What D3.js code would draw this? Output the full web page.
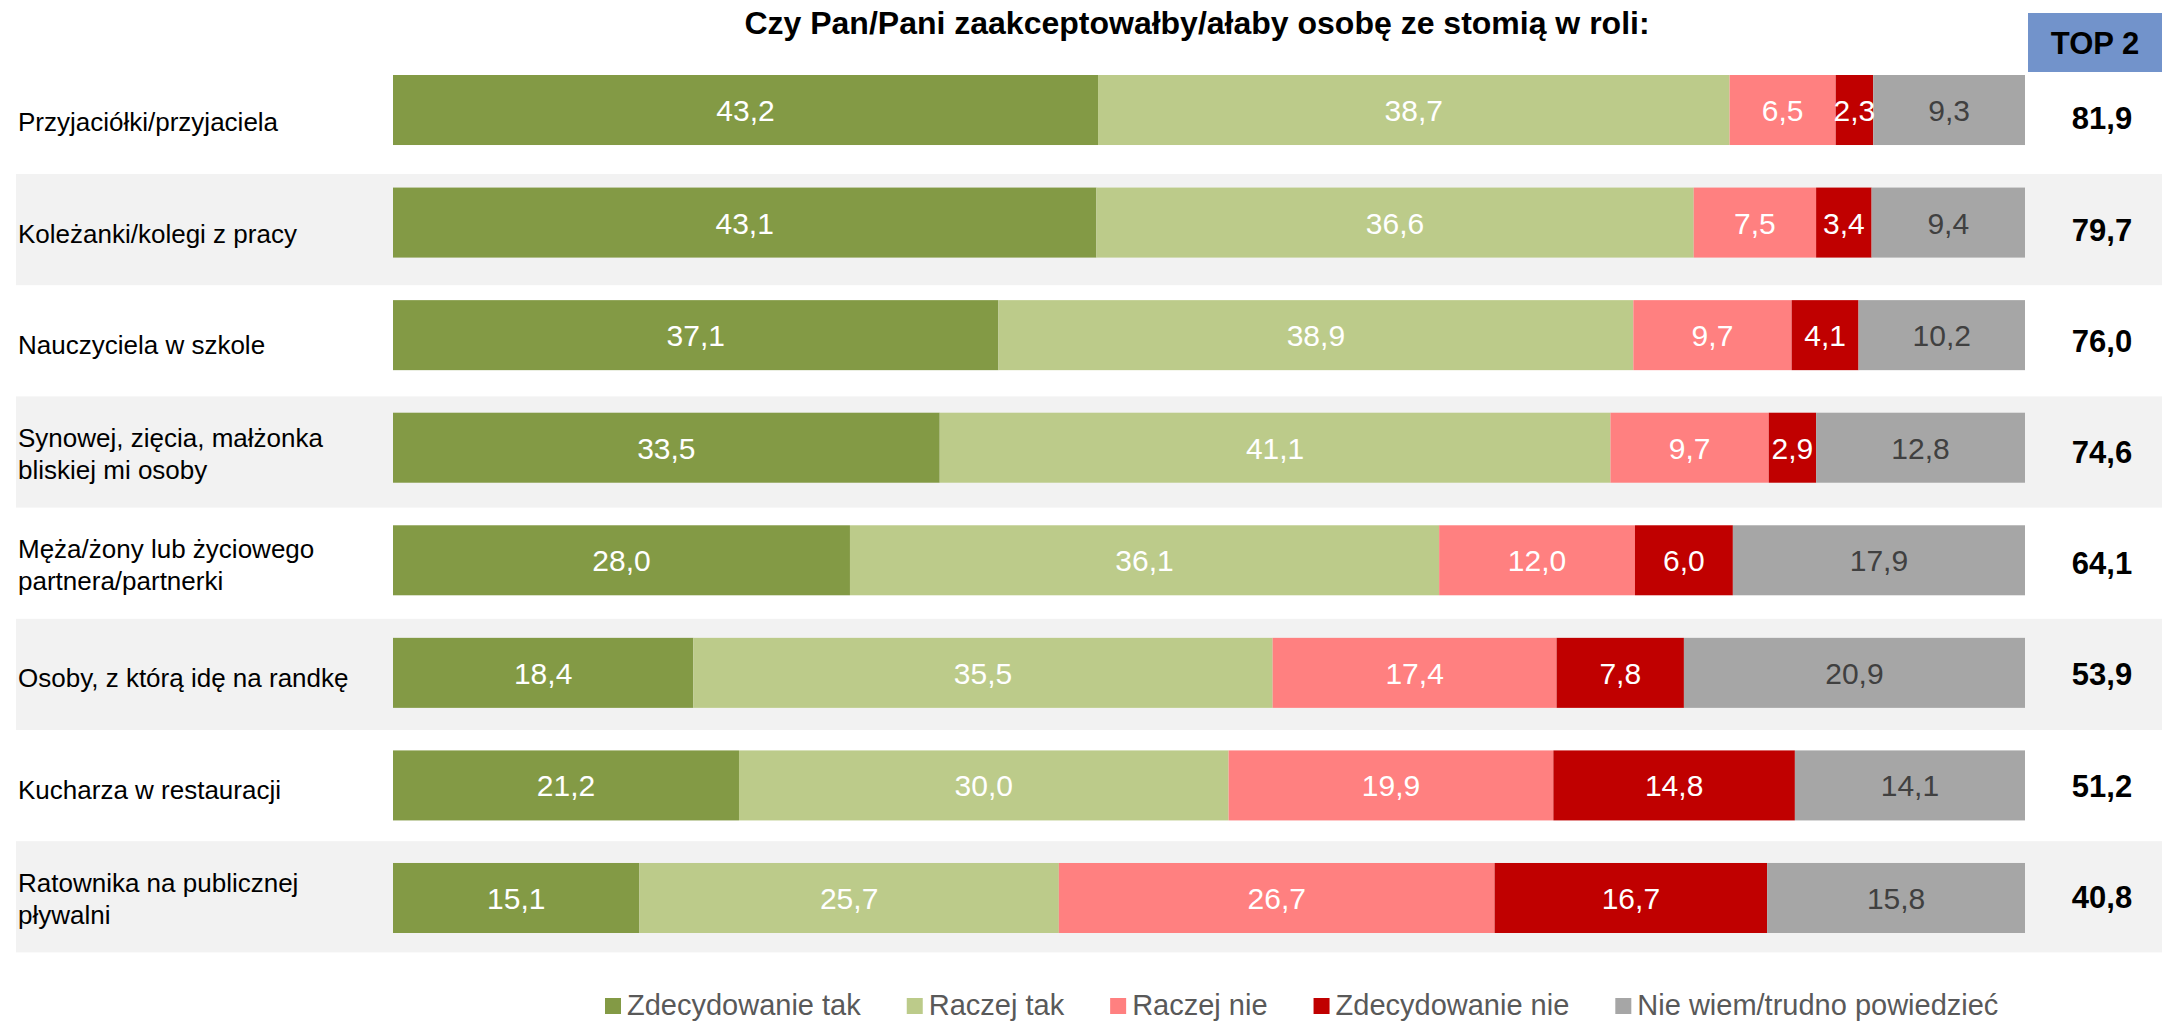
<!DOCTYPE html>
<meta charset="utf-8">
<head>
  <title>Akceptacja osoby ze stomią</title>
  <script type="text/javascript" src="https://d3js.org/d3.v7.min.js"></script>
  <style>
    body {
      margin: 0;
      padding: 0;
      background: #fff;
    }
    svg text {
      font-family: "Liberation Sans", Arial, sans-serif;
    }
  </style>
</head>

<body>
  <svg width="2162" height="1021"></svg>
  <script>
    var categories = [
      ["Przyjaciółki/przyjaciela"],
      ["Koleżanki/kolegi z pracy"],
      ["Nauczyciela w szkole"],
      ["Synowej, zięcia, małżonka", "bliskiej mi osoby"],
      ["Męża/żony lub życiowego", "partnera/partnerki"],
      ["Osoby, z którą idę na randkę"],
      ["Kucharza w restauracji"],
      ["Ratownika na publicznej", "pływalni"]
    ];

    var seriesNames = ["Zdecydowanie tak", "Raczej tak", "Raczej nie", "Zdecydowanie nie", "Nie wiem/trudno powiedzieć"];

    var zdecydowanieTak = [43.2, 43.1, 37.1, 33.5, 28.0, 18.4, 21.2, 15.1];
    var raczejTak = [38.7, 36.6, 38.9, 41.1, 36.1, 35.5, 30.0, 25.7];
    var raczejNie = [6.5, 7.5, 9.7, 9.7, 12.0, 17.4, 19.9, 26.7];
    var zdecydowanieNie = [2.3, 3.4, 4.1, 2.9, 6.0, 7.8, 14.8, 16.7];
    var nieWiem = [9.3, 9.4, 10.2, 12.8, 17.9, 20.9, 14.1, 15.8];
    var top2 = [81.9, 79.7, 76.0, 74.6, 64.1, 53.9, 51.2, 40.8];

    var colors = ["#839a45", "#bccb8a", "#ff8080", "#c00000", "#a6a6a6"];
    var textColors = ["#fff", "#fff", "#fff", "#fff", "#404040"];

    var fmt = function(v) { return v.toFixed(1).replace(".", ","); };

    // table for d3.stack
    var rows = categories.map(function(c, i) {
      return {
        idx: i,
        "Zdecydowanie tak": zdecydowanieTak[i],
        "Raczej tak": raczejTak[i],
        "Raczej nie": raczejNie[i],
        "Zdecydowanie nie": zdecydowanieNie[i],
        "Nie wiem/trudno powiedzieć": nieWiem[i]
      };
    });

    var svg = d3.select("svg");

    var x = d3.scaleLinear().domain([0, 100]).range([393, 2025]);

    var y = d3.scaleBand()
      .domain(d3.range(categories.length))
      .range([75, 933])
      .paddingInner(0.378)
      .paddingOuter(0);

    // background stripes run on a slightly tighter step than the bars
    var rowBand = d3.scaleBand()
      .domain(d3.range(categories.length))
      .range([62.8, 952.4]);

    svg.append("g")
      .selectAll("rect")
      .data(d3.range(categories.length).filter(function(i) { return i % 2 === 1; }))
      .enter().append("rect")
        .attr("x", 16)
        .attr("y", function(i) { return rowBand(i); })
        .attr("width", 2162 - 16)
        .attr("height", rowBand.bandwidth())
        .attr("fill", "#f2f2f2");

    // title
    svg.append("text")
      .attr("x", 1197)
      .attr("y", 34)
      .attr("text-anchor", "middle")
      .attr("font-size", 32)
      .attr("font-weight", "bold")
      .attr("fill", "#000")
      .text("Czy Pan/Pani zaakceptowałby/ałaby osobę ze stomią w roli:");

    // TOP 2 header
    svg.append("rect")
      .attr("x", 2028)
      .attr("y", 13)
      .attr("width", 2162 - 2028)
      .attr("height", 59)
      .attr("fill", "#7293cb");
    svg.append("text")
      .attr("x", 2095)
      .attr("y", 54)
      .attr("text-anchor", "middle")
      .attr("font-size", 31)
      .attr("font-weight", "bold")
      .attr("fill", "#000")
      .text("TOP 2");

    var stack = d3.stack().keys(seriesNames);
    var series = stack(rows);

    var layer = svg.append("g")
      .selectAll("g")
      .data(series)
      .enter().append("g")
        .attr("fill", function(d, k) { return colors[k]; });

    layer.selectAll("rect")
      .data(function(d) { return d; })
      .enter().append("rect")
        .attr("x", function(d) { return x(d[0]); })
        .attr("y", function(d) { return y(d.data.idx); })
        .attr("width", function(d) { return x(d[1]) - x(d[0]); })
        .attr("height", y.bandwidth());

    var labels = svg.append("g")
      .selectAll("g")
      .data(series)
      .enter().append("g")
        .attr("fill", function(d, k) { return textColors[k]; });

    labels.selectAll("text")
      .data(function(d) { return d; })
      .enter().append("text")
        .attr("x", function(d) { return (x(d[0]) + x(d[1])) / 2; })
        .attr("y", function(d) { return y(d.data.idx) + y.bandwidth() / 2 + 11; })
        .attr("text-anchor", "middle")
        .attr("font-size", 30)
        .text(function(d) { return fmt(d[1] - d[0]); });

    // category labels
    var cat = svg.append("g")
      .selectAll("text")
      .data(categories)
      .enter().append("text")
        .attr("font-size", 26)
        .attr("fill", "#000");

    cat.each(function(lines, i) {
      var mid = rowBand(i) + rowBand.bandwidth() / 2;
      var base = mid + 13 - (lines.length - 1) * 18;
      d3.select(this).selectAll("tspan")
        .data(lines)
        .enter().append("tspan")
          .attr("x", 18)
          .attr("y", function(l, j) { return base + j * 32; })
          .text(function(l) { return l; });
    });

    // TOP 2 values
    svg.append("g")
      .selectAll("text")
      .data(top2)
      .enter().append("text")
        .attr("x", 2102)
        .attr("y", function(d, i) { return rowBand(i) + rowBand.bandwidth() / 2 + 11; })
        .attr("text-anchor", "middle")
        .attr("font-size", 31)
        .attr("font-weight", "bold")
        .attr("fill", "#000")
        .text(fmt);

    // legend
    var legend = svg.append("g");
    var lx = 605;
    seriesNames.forEach(function(name, k) {
      legend.append("rect")
        .attr("x", lx)
        .attr("y", 998)
        .attr("width", 16)
        .attr("height", 16)
        .attr("fill", colors[k]);
      var t = legend.append("text")
        .attr("x", lx + 22)
        .attr("y", 1015)
        .attr("font-size", 29)
        .attr("fill", "#595959")
        .text(name);
      lx = lx + 22 + t.node().getComputedTextLength() + 46;
    });
  </script>
</body>
